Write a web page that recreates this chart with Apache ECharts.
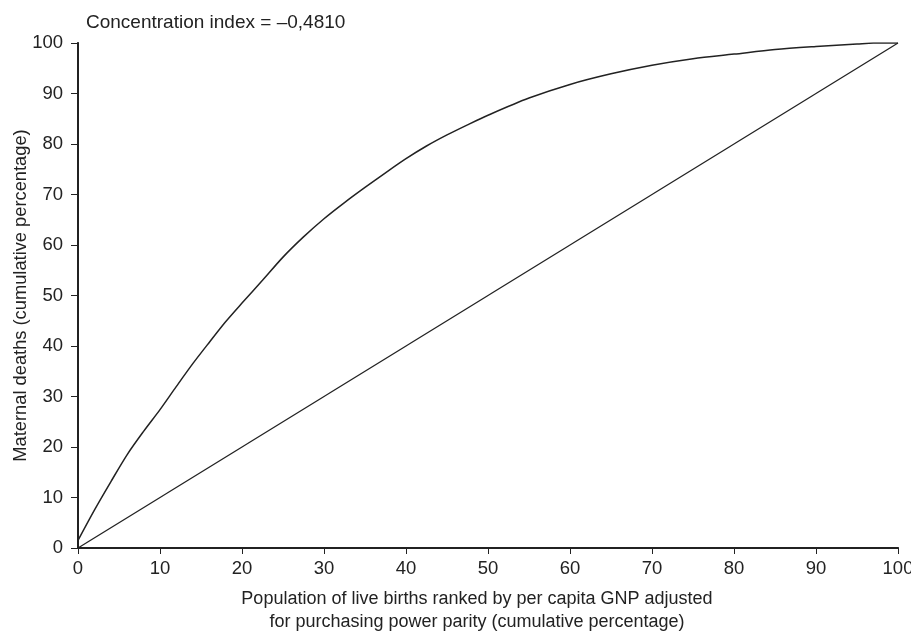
<!DOCTYPE html>
<html>
<head>
<meta charset="utf-8">
<script src="https://cdn.jsdelivr.net/npm/echarts@6/dist/echarts.min.js"></script>
<style>html,body{margin:0;padding:0;background:#fff}#c{width:911px;height:637px}</style>
</head>
<body>
<div id="c"></div>
<script>
var curveX = [0, 2, 4, 6, 8, 10, 12, 14, 16, 18, 20, 22.5, 25, 27.5, 30, 32.5, 35, 37.5, 40, 42.5, 45, 47.5, 50, 55, 60, 65, 70, 75, 80, 85, 90, 95, 97, 100];
var curveY = [1.5, 7.5, 13.1, 18.5, 23.1, 27.4, 32, 36.5, 40.7, 44.8, 48.5, 53, 57.6, 61.6, 65.2, 68.4, 71.4, 74.3, 77.1, 79.6, 81.8, 83.8, 85.7, 89.1, 91.8, 93.9, 95.6, 96.9, 97.8, 98.7, 99.3, 99.8, 100, 100];
var equalityX = [0, 100];
var equalityY = [0, 100];
var titleText = 'Concentration index = \u20130,4810';
var xName = 'Population of live births ranked by per capita GNP adjusted\nfor purchasing power parity (cumulative percentage)';
var yName = 'Maternal deaths (cumulative percentage)';

function pairs(xs, ys) { return xs.map(function (x, i) { return [x, ys[i]]; }); }

var ink = '#222';
var font = 'Liberation Sans, Arial, sans-serif';
var chart = echarts.init(document.getElementById('c'));
chart.setOption({
  animation: false,
  backgroundColor: '#fff',
  title: {
    text: titleText, left: 81, top: 8,
    textStyle: { fontFamily: font, fontSize: 19, fontWeight: 'normal', color: ink }
  },
  grid: { left: 78, right: 13, top: 43, bottom: 89, outerBoundsMode: 'none', containLabel: false },
  xAxis: [{
    type: 'value', min: 0, max: 100, interval: 10,
    name: xName, nameLocation: 'middle', nameGap: 40, nameMoveOverlap: false,
    nameTextStyle: { fontFamily: font, fontSize: 18, color: ink, lineHeight: 23, padding: [0, 22, 0, 0] },
    axisLine: { show: true, lineStyle: { color: ink, width: 2 } },
    axisTick: { show: true, length: 6, lineStyle: { color: ink, width: 1 } },
    axisLabel: { margin: 11, fontFamily: font, fontSize: 18.5, color: ink },
    splitLine: { show: false }
  }, {
    type: 'value', position: 'top', min: 0, max: 100,
    axisLine: { show: true, lineStyle: { color: ink, width: 1.5, type: [6, 3] } },
    axisTick: { show: false }, axisLabel: { show: false }, splitLine: { show: false }
  }],
  yAxis: [{
    type: 'value', min: 0, max: 100, interval: 10,
    name: yName, nameLocation: 'middle', nameGap: 48, nameRotate: 90, nameMoveOverlap: false,
    nameTextStyle: { fontFamily: font, fontSize: 18.3, color: ink },
    axisLine: { show: true, lineStyle: { color: ink, width: 2 } },
    axisTick: { show: true, length: 7, lineStyle: { color: ink, width: 1 } },
    axisLabel: { margin: 15, fontFamily: font, fontSize: 18.5, color: ink },
    splitLine: { show: false }
  }, {
    type: 'value', position: 'right', min: 0, max: 100,
    axisLine: { show: true, lineStyle: { color: ink, width: 1.5 } },
    axisTick: { show: false }, axisLabel: { show: false }, splitLine: { show: false }
  }],
  series: [{
    type: 'line', data: pairs(curveX, curveY), smooth: 0.3, showSymbol: false,
    lineStyle: { color: ink, width: 1.5 }
  }, {
    type: 'line', data: pairs(equalityX, equalityY), showSymbol: false,
    lineStyle: { color: ink, width: 1.3 }
  }]
});
</script>
</body>
</html>
